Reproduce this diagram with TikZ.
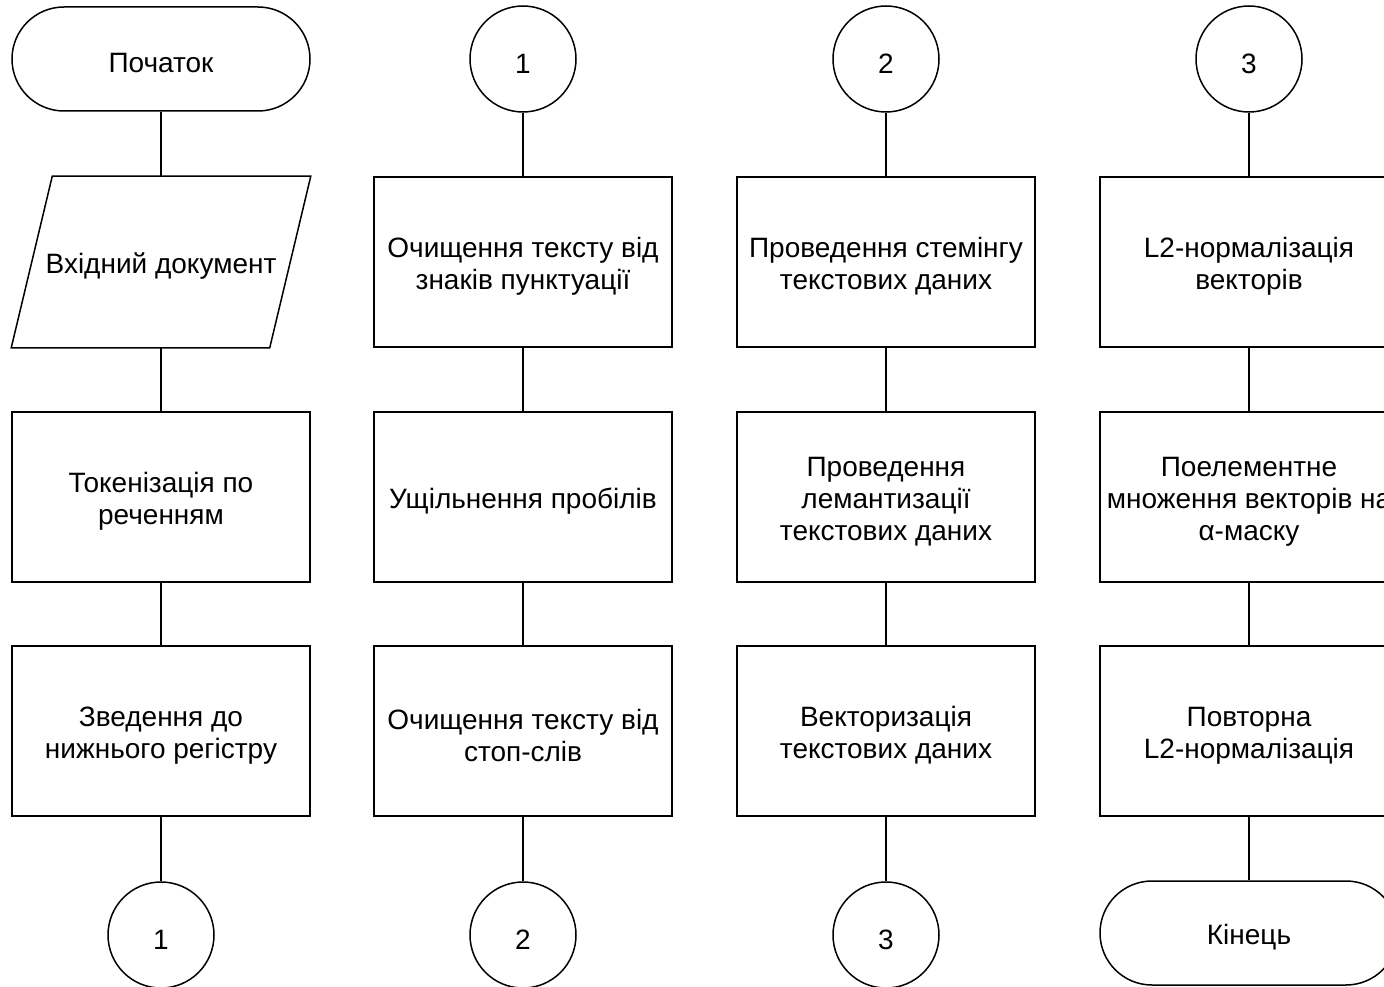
\documentclass[tikz,border=0pt]{standalone}
\usepackage{fontspec}
\setmainfont{Liberation Sans}
\begin{document}
\begin{tikzpicture}[x=1pt,y=-1pt,
  textlab/.style={align=center, inner sep=0pt, yshift=-4.5pt,
    font=\fontsize{28}{32}\selectfont},
  base/.style={line width=1.5pt, inner sep=0pt,
    label={[textlab]center:#1}},
  proc/.style={base=#1, draw, rectangle, minimum width=298pt, minimum height=170pt},
  term/.style={base=#1, draw, rectangle, rounded corners=52pt,
    minimum width=298pt, minimum height=104pt},
  conn/.style={base=#1, draw, circle, minimum size=106pt},
  iobox/.style={base=#1, rectangle, minimum width=298pt, minimum height=170pt},
  link/.style={line width=1.5pt}]
\useasboundingbox (0,0) rectangle (1384,987);
\clip (0,0) rectangle (1384,987);

% column 1
\node[term={Початок}] (start) at (161,59) {};
\node[iobox={Вхідний документ}] (input) at (161,262) {};
\draw[link] ([xshift=41pt]input.north west) -- (input.north east)
  -- ([xshift=-41pt]input.south east) -- (input.south west) -- cycle;
\node[proc={Токенізація по\\реченням}] (tok) at (161,497) {};
\node[proc={Зведення до\\нижнього регістру}] (lower) at (161,731) {};
\node[conn={1}] (c1out) at (161,935) {};

% column 2
\node[conn={1}] (c1in) at (523,59) {};
\node[proc={Очищення тексту від\\знаків пунктуації}] (punct) at (523,262) {};
\node[proc={Ущільнення пробілів}] (spaces) at (523,497) {};
\node[proc={Очищення тексту від\\стоп-слів}] (stopw) at (523,731) {};
\node[conn={2}] (c2out) at (523,935) {};

% column 3
\node[conn={2}] (c2in) at (886,59) {};
\node[proc={Проведення стемінгу\\текстових даних}] (stem) at (886,262) {};
\node[proc={Проведення\\лемантизації\\текстових даних}] (lemma) at (886,497) {};
\node[proc={Векторизація\\текстових даних}] (vect) at (886,731) {};
\node[conn={3}] (c3out) at (886,935) {};

% column 4
\node[conn={3}] (c3in) at (1249,59) {};
\node[proc={L2-нормалізація\\векторів}] (norm) at (1249,262) {};
\node[proc={Поелементне\\множення векторів на\\α-маску}] (mask) at (1249,497) {};
\node[proc={Повторна\\L2-нормалізація}] (renorm) at (1249,731) {};
\node[term={Кінець}] (finish) at (1249,933) {};

% connectors
\draw[link] (start) -- (input);
\draw[link] (input) -- (tok);
\draw[link] (tok) -- (lower);
\draw[link] (lower) -- (c1out);
\draw[link] (c1in) -- (punct);
\draw[link] (punct) -- (spaces);
\draw[link] (spaces) -- (stopw);
\draw[link] (stopw) -- (c2out);
\draw[link] (c2in) -- (stem);
\draw[link] (stem) -- (lemma);
\draw[link] (lemma) -- (vect);
\draw[link] (vect) -- (c3out);
\draw[link] (c3in) -- (norm);
\draw[link] (norm) -- (mask);
\draw[link] (mask) -- (renorm);
\draw[link] (renorm) -- (finish);
\end{tikzpicture}
\end{document}
